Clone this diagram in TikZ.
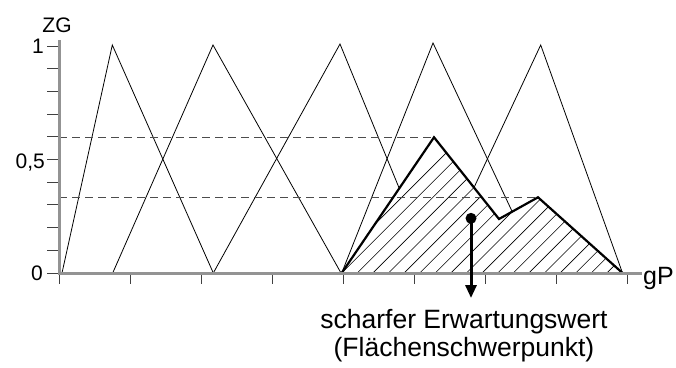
\documentclass[tikz,border=0pt]{standalone}
\usepackage{fontspec}
\setmainfont{Liberation Sans}
\usetikzlibrary{arrows.meta}
\begin{document}
\begin{tikzpicture}[x=1pt,y=-1pt,
 axisline/.style={draw=gray!85, line width=3pt},
 tickline/.style={draw=gray!50!black, line width=1pt},
 mf/.style={draw=black, line width=0.8pt, line join=miter},
 result/.style={draw=black, line width=2.2pt, line join=miter},
 hatchline/.style={draw=black, line width=0.6pt},
 guide/.style={draw=gray!60!black, dash pattern=on 8pt off 5pt, line width=1pt},
 lbl/.style={font=\fontsize{21}{26}\selectfont, inner sep=0pt},
 caplbl/.style={font=\fontsize{26.5}{28}\selectfont, inner sep=0pt, align=center},
]
\useasboundingbox (0,0) rectangle (676,367);
% named points
\coordinate (O) at (59,273);
\coordinate (ytop) at (59,40);
\coordinate (xend) at (642,273);
\coordinate (r0) at (341.7,273);
\coordinate (r1) at (434,137.3);
\coordinate (r2) at (499,219);
\coordinate (r3) at (538,197.3);
\coordinate (r4) at (622.5,273);
% membership functions
\draw[mf] (62,273) -- (112.3,45) -- (213.3,273);
\draw[mf] (112.7,273) -- (213,45) -- (341,273);
\draw[mf] (213.3,273) -- (340,44) -- (434,273);
\draw[mf] (341.7,273) -- (433,43) -- (541,273);
\draw[mf] (434,273) -- (540.7,45) -- (622.5,273);
% hatched result area
\fill[white] (r0) -- (r1) -- (r2) -- (r3) -- (r4) -- cycle;
\begin{scope}
\clip (r0) -- (r1) -- (r2) -- (r3) -- (r4) -- cycle;
\foreach \i in {-1,...,20} \draw[hatchline] (341.7+15.6*\i-300,573) -- ++(600,-600);
\end{scope}
% guide lines
\coordinate (g1) at (59,137.3);
\coordinate (g2) at (59,197.3);
\draw[guide] (g1) -- (r1);
\draw[guide] (g2) -- (r3);
% result outline
\draw[result] (r0) -- (r1) -- (r2) -- (r3) -- (r4);
% ticks
\foreach \k in {0,...,10} \draw[tickline] (47,273-22.7*\k) -- (59,273-22.7*\k);
\foreach \k in {0,...,8} \draw[tickline] (59+71.1*\k,273) -- (59+71.1*\k,284);
% axes
\draw[axisline] (ytop) -- (O) -- (xend);
% labels
\node[lbl] (zg) at (57,25.5) {ZG};
\node[lbl, anchor=east] (l1) at (44,46) {1};
\node[lbl, anchor=base east] (l05) at (45,168) {0,5};
\node[lbl, anchor=east] (l0) at (43,273) {0};
\node[lbl, font=\fontsize{25}{26}\selectfont, anchor=base west] (gp) at (643,284) {gP};
% centroid
\coordinate (cg) at (471,218.3);
\coordinate (cgx) at (471,298);
\fill (cg) circle (5.5);
\draw[line width=3pt, -{Triangle[length=13pt,width=11pt]}] (cg) -- (cgx);
\node[caplbl, anchor=north] (cap) at (464,309) {scharfer Erwartungswert\\(Flächenschwerpunkt)};
\end{tikzpicture}
\end{document}
